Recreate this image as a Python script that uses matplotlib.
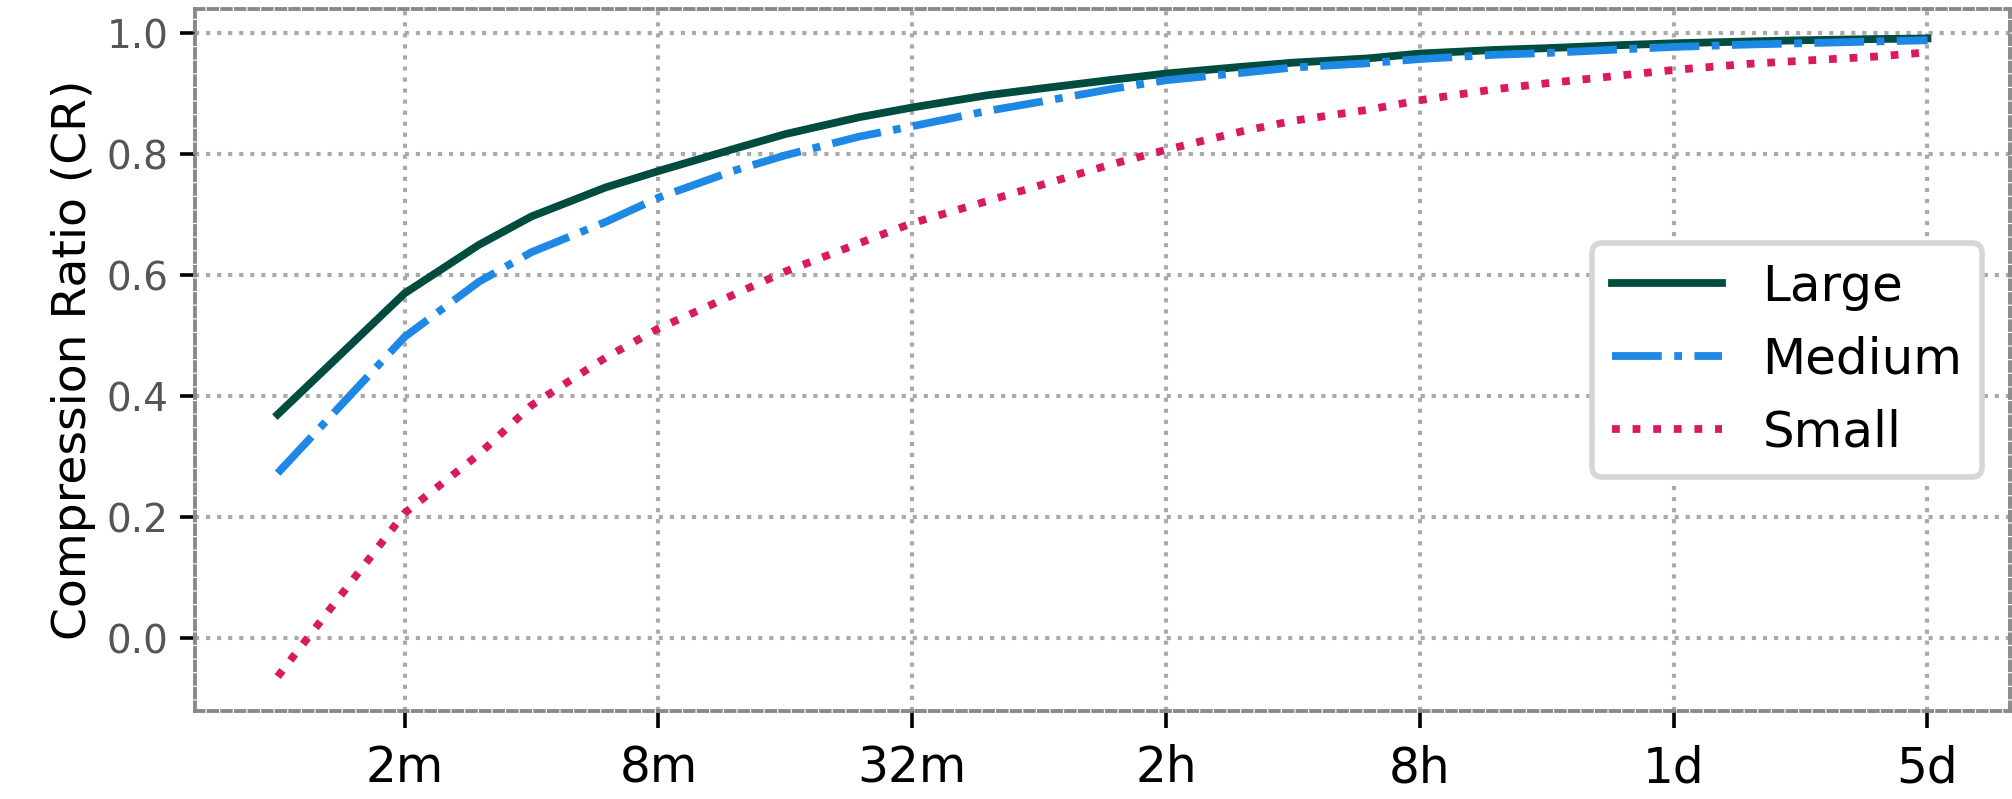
import matplotlib
matplotlib.use("Agg")
import matplotlib.pyplot as plt

# Time window in minutes (log2 axis)
window_min = [1, 2, 3, 4, 6, 8, 12, 16, 24, 32, 48, 64, 96, 128, 192, 256,
              384, 512, 768, 1024, 1536, 2048, 3072, 4096, 6144, 8192]

cr_large = [0.370, 0.570, 0.650, 0.697, 0.745, 0.772, 0.808, 0.833, 0.861, 0.877,
            0.897, 0.908, 0.923, 0.933, 0.944, 0.951, 0.958, 0.966, 0.972, 0.975,
            0.980, 0.983, 0.986, 0.988, 0.990, 0.991]
cr_medium = [0.273, 0.498, 0.589, 0.638, 0.688, 0.728, 0.772, 0.798, 0.829, 0.846,
             0.871, 0.886, 0.908, 0.922, 0.934, 0.943, 0.950, 0.957, 0.964, 0.967,
             0.973, 0.977, 0.981, 0.983, 0.986, 0.988]
cr_small = [-0.063, 0.207, 0.304, 0.385, 0.464, 0.512, 0.567, 0.606, 0.653, 0.686,
            0.722, 0.748, 0.784, 0.807, 0.837, 0.855, 0.873, 0.889, 0.907, 0.917,
            0.930, 0.939, 0.949, 0.954, 0.961, 0.968]

tick_pos = [2, 8, 32, 128, 512, 2048, 8192]
tick_labels = ["2m", "8m", "32m", "2h", "8h", "1d", "5d"]

fig = plt.figure(figsize=(10.06, 3.995), dpi=200)
ax = fig.add_axes([0.097, 0.110, 0.902, 0.879])

ax.plot(window_min, cr_large, label="Large", color="#004d40", linestyle="-", linewidth=2.8)
ax.plot(window_min, cr_medium, label="Medium", color="#1e88e5", linestyle="-.", linewidth=2.8)
ax.plot(window_min, cr_small, label="Small", color="#d81b60", linestyle=":", linewidth=2.8)

ax.set_xscale("log", base=2)
ax.set_xticks(tick_pos)
ax.set_xticklabels(tick_labels)
ax.minorticks_off()
ax.set_ylim(-0.12, 1.04)
ax.set_yticks([0.0, 0.2, 0.4, 0.6, 0.8, 1.0])

ax.tick_params(axis="x", labelsize=17.5, length=6, width=1.3, pad=6, colors="black")
ax.tick_params(axis="y", labelsize=14, length=5.5, width=1.3, pad=4, labelcolor="#555555")
ax.set_ylabel("Compression Ratio (CR)", fontsize=17)

for sp in ax.spines.values():
    sp.set_linestyle((0, (2.2, 1.3)))
    sp.set_color("#8a8a8a")
    sp.set_linewidth(1.4)

ax.grid(True, linestyle=":", color="#aaaaaa", linewidth=1.5)

leg = ax.legend(loc="center right", fontsize=18, frameon=True, fancybox=True,
                handlelength=2.2, handletextpad=0.8, borderaxespad=0.55)
leg.get_frame().set_edgecolor("#d6d6d6")
leg.get_frame().set_linewidth(2.0)
leg.get_frame().set_alpha(1.0)

fig.savefig("out.png", dpi=200)
